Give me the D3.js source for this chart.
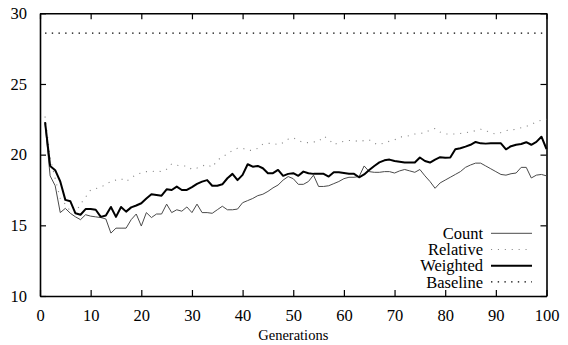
<!DOCTYPE html>
<html>
<head>
<meta charset="utf-8">
<script src="https://cdn.jsdelivr.net/npm/d3@7"></script>
<style>
  html, body { margin: 0; padding: 0; background: #fff; }
  svg { display: block; }
  svg text { font-family: "Liberation Serif", "Times New Roman", serif; fill: #000; }
</style>
</head>
<body>
<svg id="chart" width="568" height="345"></svg>
<script>
const generations = d3.range(1, 101);

const count = [
  22.2, 18.5, 17.8, 15.9, 16.2, 15.85, 15.6, 15.4, 15.75, 15.65,
  15.6, 15.55, 15.45, 14.45, 14.8, 14.8, 14.8, 15.4, 15.8, 14.95,
  15.9, 15.55, 15.8, 15.8, 16.5, 15.9, 16.1, 16.0, 16.3, 15.9,
  16.5, 15.9, 15.9, 15.85, 16.1, 16.35, 16.1, 16.1, 16.15, 16.6,
  16.75, 16.9, 17.1, 17.2, 17.4, 17.65, 17.85, 18.2, 18.45, 18.3,
  17.9, 17.9, 18.1, 18.55, 17.75, 17.75, 17.8, 17.95, 18.1, 18.3,
  18.4, 18.4, 18.45, 19.2, 18.8, 18.75, 18.75, 18.8, 18.8, 18.7,
  18.85, 18.95, 18.85, 18.75, 18.95, 18.5, 18.1, 17.62, 18.0, 18.2,
  18.4, 18.6, 18.8, 19.1, 19.27, 19.4, 19.4, 19.2, 19.0, 18.8,
  18.6, 18.55, 18.65, 18.7, 19.1, 19.1, 18.35, 18.55, 18.6, 18.5
];

const relative = [
  22.7, 19.8, 18.3, 16.9, 16.5, 16.0, 15.9, 16.5, 17.0, 17.5,
  17.6, 17.7, 17.9, 18.1, 18.2, 18.3, 18.1, 18.35, 18.6, 18.7,
  18.8, 18.8, 18.85, 18.8, 18.97, 19.35, 19.25, 19.2, 19.2, 18.95,
  19.05, 19.2, 19.3, 19.1, 19.6, 19.85, 20.05, 20.3, 20.45, 20.45,
  20.3, 20.3, 20.45, 20.75, 20.8, 20.8, 20.7, 20.85, 21.1, 21.2,
  21.0, 20.85, 20.85, 20.9, 20.92, 21.3, 21.1, 20.7, 20.85, 20.95,
  21.0, 21.0, 20.92, 21.0, 21.05, 20.8, 20.7, 20.85, 20.95, 21.04,
  21.25, 21.27, 21.35, 21.46, 21.5, 21.55, 21.75, 21.85, 21.6, 21.46,
  21.46, 21.46, 21.5, 21.56, 21.6, 21.7, 21.8, 21.7, 21.55, 21.46,
  21.56, 21.7, 21.75, 21.8, 21.9, 22.0, 22.15, 22.3, 22.45, 22.5
];

const weighted = [
  22.3, 19.2, 18.9, 18.1, 16.8, 16.7, 15.85, 15.75, 16.15, 16.15,
  16.1, 15.6, 15.7, 16.3, 15.6, 16.3, 15.97, 16.27, 16.4, 16.56,
  16.9, 17.2, 17.15, 17.1, 17.55, 17.5, 17.74, 17.5, 17.5, 17.7,
  17.93, 18.09, 18.2, 17.8, 17.8, 17.9, 18.33, 18.64, 18.2, 18.57,
  19.32, 19.15, 19.2, 19.04, 18.69, 18.69, 18.92, 18.5, 18.64, 18.69,
  18.5, 18.8, 18.68, 18.64, 18.64, 18.64, 18.45, 18.75, 18.75, 18.7,
  18.65, 18.64, 18.4, 18.6, 18.92, 19.2, 19.45, 19.6, 19.65, 19.55,
  19.5, 19.44, 19.44, 19.44, 19.8, 19.55, 19.44, 19.65, 19.82, 19.78,
  19.8, 20.38, 20.45, 20.57, 20.7, 20.9, 20.8, 20.78, 20.8, 20.8,
  20.8, 20.38, 20.6, 20.7, 20.75, 20.88, 20.7, 20.9, 21.27, 20.4
];

const baselineValue = 28.6;
const baseline = generations.map(() => baselineValue);

const xTicks = [0, 10, 20, 30, 40, 50, 60, 70, 80, 90, 100];
const yTicks = [10, 15, 20, 25, 30];
const seriesNames = ["Count", "Relative", "Weighted", "Baseline"];
const xTitle = "Generations";

const W = 568, H = 345;
const m = { left: 40, right: 568 - 546.5, top: 13.3, bottom: 345 - 296 };
const svg = d3.select("#chart");
const FONT = "Liberation Serif, Times New Roman, serif";

const x = d3.scaleLinear().domain([0, 100]).range([m.left, W - m.right]);
const y = d3.scaleLinear().domain([10, 30]).range([H - m.bottom, m.top]);

const styles = {
  Count:    { stroke: "#4a4a4a", width: 1,   dash: null },
  Relative: { stroke: "#8a8a8a", width: 1.1, dash: "1.1,5.8" },
  Weighted: { stroke: "#000",    width: 2,   dash: null },
  Baseline: { stroke: "#000",    width: 1.4, dash: "1.4,5.3" }
};
const seriesData = { Count: count, Relative: relative, Weighted: weighted, Baseline: baseline };

const fontSize = 16.5;

// Axes
const gLeft = svg.append("g").attr("transform", `translate(${m.left},0)`)
  .call(d3.axisLeft(y).tickValues(yTicks).tickSize(-6).tickSizeOuter(0).tickPadding(13));
const gBottom = svg.append("g").attr("transform", `translate(0,${H - m.bottom})`)
  .call(d3.axisBottom(x).tickValues(xTicks).tickSize(-6).tickSizeOuter(0).tickPadding(13));
const gRight = svg.append("g").attr("transform", `translate(${W - m.right},0)`)
  .call(d3.axisRight(y).tickValues(yTicks).tickSize(-6).tickSizeOuter(0).tickFormat(""));
const gTop = svg.append("g").attr("transform", `translate(0,${m.top})`)
  .call(d3.axisTop(x).tickValues(xTicks).tickSize(-6).tickSizeOuter(0).tickFormat(""));

[gLeft, gBottom, gRight, gTop].forEach(g => {
  g.attr("font-family", FONT);
  g.selectAll(".domain").attr("stroke", "#000").attr("stroke-width", 1.6);
  g.selectAll(".tick line").attr("stroke", "#000").attr("stroke-width", 1.2);
  g.selectAll("text").attr("font-size", fontSize)
    .attr("font-family", FONT).attr("fill", "#000");
});
gLeft.selectAll(".tick text").attr("dy", "0.32em");
gBottom.selectAll(".tick text").attr("dy", "0.71em");

svg.append("text")
  .attr("x", (x(0) + x(100)) / 2)
  .attr("y", 340)
  .attr("text-anchor", "middle")
  .attr("font-family", FONT)
  .attr("font-size", 14.5)
  .text(xTitle);

// Lines
const line = d3.line().x((d, i) => x(generations[i])).y(d => y(d));
const drawOrder = ["Baseline", "Relative", "Count", "Weighted"];
drawOrder.forEach(name => {
  const s = styles[name];
  svg.append("path")
    .datum(seriesData[name])
    .attr("fill", "none")
    .attr("stroke", s.stroke)
    .attr("stroke-width", s.width)
    .attr("stroke-linejoin", "round")
    .attr("stroke-dasharray", s.dash)
    .attr("d", line);
});

// Legend
const legendRight = 483;
const sampleX0 = 491, sampleX1 = 532;
const rowY0 = 233.3, rowStep = 16.2;
seriesNames.forEach((name, i) => {
  const yy = rowY0 + i * rowStep;
  const s = styles[name];
  svg.append("text")
    .attr("x", legendRight)
    .attr("y", yy)
    .attr("dy", "0.35em")
    .attr("text-anchor", "end")
    .attr("font-family", FONT)
    .attr("font-size", fontSize)
    .text(name);
  svg.append("line")
    .attr("x1", sampleX0).attr("x2", sampleX1)
    .attr("y1", yy).attr("y2", yy)
    .attr("stroke", s.stroke)
    .attr("stroke-width", s.width)
    .attr("stroke-dasharray", s.dash);
});
</script>
</body>
</html>
